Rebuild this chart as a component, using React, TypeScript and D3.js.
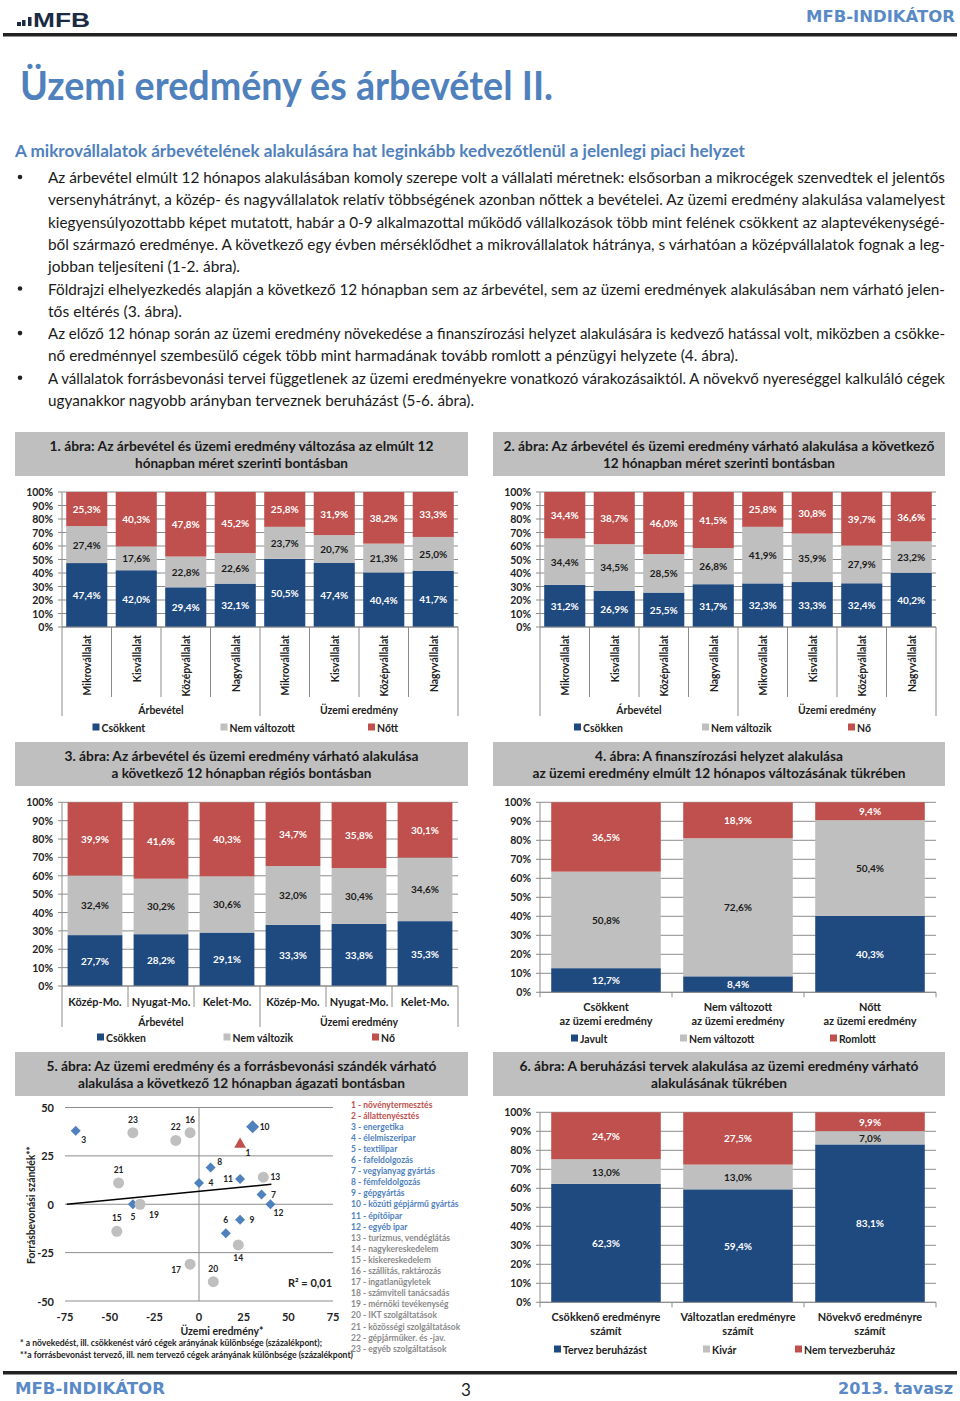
import React from "react";
import * as d3 from "d3";

const FONT = "Lato, 'Open Sans', sans-serif";
const BLUE = "#1f4a80";
const GRAY = "#bfbfbf";
const RED = "#c0504d";
const HEAD = "#4f81bd";
const GRID = "#8c8c8c";

// ---------- Chart 1 ----------
const c1Cats = ["Mikrovállalat", "Kisvállalat", "Középvállalat", "Nagyvállalat", "Mikrovállalat", "Kisvállalat", "Középvállalat", "Nagyvállalat"];
const c1Groups = ["Árbevétel", "Üzemi eredmény"];
const c1Names = ["Csökkent", "Nem változott", "Nőtt"];
const c1Down = [47.4, 42.0, 29.4, 32.1, 50.5, 47.4, 40.4, 41.7];
const c1Same = [27.4, 17.6, 22.8, 22.6, 23.7, 20.7, 21.3, 25.0];
const c1Up = [25.3, 40.3, 47.8, 45.2, 25.8, 31.9, 38.2, 33.3];

// ---------- Chart 2 ----------
const c2Cats = c1Cats;
const c2Groups = ["Árbevétel", "Üzemi eredmény"];
const c2Names = ["Csökken", "Nem változik", "Nő"];
const c2Down = [31.2, 26.9, 25.5, 31.7, 32.3, 33.3, 32.4, 40.2];
const c2Same = [34.4, 34.5, 28.5, 26.8, 41.9, 35.9, 27.9, 23.2];
const c2Up = [34.4, 38.7, 46.0, 41.5, 25.8, 30.8, 39.7, 36.6];

// ---------- Chart 3 ----------
const c3Cats = ["Közép-Mo.", "Nyugat-Mo.", "Kelet-Mo.", "Közép-Mo.", "Nyugat-Mo.", "Kelet-Mo."];
const c3Groups = ["Árbevétel", "Üzemi eredmény"];
const c3Names = ["Csökken", "Nem változik", "Nő"];
const c3Down = [27.7, 28.2, 29.1, 33.3, 33.8, 35.3];
const c3Same = [32.4, 30.2, 30.6, 32.0, 30.4, 34.6];
const c3Up = [39.9, 41.6, 40.3, 34.7, 35.8, 30.1];

// ---------- Chart 4 ----------
const c4Cats = ["Csökkent\naz üzemi eredmény", "Nem változott\naz üzemi eredmény", "Nőtt\naz üzemi eredmény"];
const c4Names = ["Javult", "Nem változott", "Romlott"];
const c4Better = [12.7, 8.4, 40.3];
const c4Same = [50.8, 72.6, 50.4];
const c4Worse = [36.5, 18.9, 9.4];

// ---------- Chart 5 (scatter) ----------
const spId = [3, 23, 22, 16, 10, 1, 8, 4, 11, 13, 21, 7, 12, 5, 19, 15, 9, 6, 14, 17, 20];
const spX = [-69, -37, -13, -5, 30, 23, 6.5, 0, 23, 36, -45, 35, 40, -37, -33, -46, 23, 15, 22, -5, 8];
const spY = [38, 37, 33, 37, 40, 31, 19, 11, 13, 14, 11, 5, 0, 0, 0, -14, -8, -15, -21, -31, -40];
const spLabelPos = ["br", "t", "t", "t", "r", "br", "tr", "r", "l", "r", "t", "r", "br", "b", "br2", "t", "r", "t", "b", "bl", "t"];
const trendX = [-74, 40.5];
const trendY = [0, 10.3];
const spXTicks = [-75, -50, -25, 0, 25, 50, 75];
const spYTicks = [50, 25, 0, -25, -50];
const sectors = [
  "1 - növénytermesztés", "2 - állattenyésztés", "3 - energetika", "4 - élelmiszeripar", "5 - textilipar",
  "6 - fafeldolgozás", "7 - vegyianyag  gyártás", "8 - fémfeldolgozás", "9 - gépgyártás",
  "10 - közúti gépjármű gyártás", "11 - építőipar", "12 - egyéb ipar", "13 - turizmus, vendéglátás",
  "14 - nagykereskedelem", "15 - kiskereskedelem", "16 - szállítás,  raktározás", "17 - ingatlanügyletek",
  "18 - számviteli tanácsadás", "19 - mérnöki tevékenység", "20 - IKT szolgáltatások",
  "21 - közösségi  szolgáltatások", "22 - gépjárműker. és -jav.", "23 - egyéb szolgáltatások",
];

// ---------- Chart 6 ----------
const c6Cats = ["Csökkenő eredményre\nszámít", "Változatlan eredményre\nszámít", "Növekvő eredményre\nszámít"];
const c6Names = ["Tervez beruházást", "Kivár", "Nem tervezberuház"];
const c6Plan = [62.3, 59.4, 83.1];
const c6Wait = [13.0, 13.0, 7.0];
const c6No = [24.7, 27.5, 9.9];

// ---------- Text ----------
const bodyLines = [
  "Az árbevétel elmúlt 12 hónapos alakulásában komoly szerepe volt a vállalati méretnek: elsősorban a mikrocégek szenvedtek el jelentős",
  "versenyhátrányt, a közép- és nagyvállalatok relatív többségének azonban nőttek a bevételei. Az üzemi eredmény alakulása valamelyest",
  "kiegyensúlyozottabb képet mutatott, habár a 0-9 alkalmazottal működő vállalkozások több mint felének csökkent az alaptevékenységé-",
  "ből származó eredménye. A következő egy évben mérséklődhet a mikrovállalatok hátránya, s várhatóan a középvállalatok fognak a leg-",
  "jobban teljesíteni (1-2. ábra).",
  "Földrajzi elhelyezkedés alapján a következő 12 hónapban sem az árbevétel, sem az üzemi eredmények alakulásában nem várható jelen-",
  "tős eltérés (3. ábra).",
  "Az előző 12 hónap során az üzemi eredmény növekedése a finanszírozási helyzet alakulására is kedvező hatással volt, miközben a csökke-",
  "nő eredménnyel szembesülő cégek több mint harmadának tovább romlott a pénzügyi helyzete (4. ábra).",
  "A vállalatok forrásbevonási tervei függetlenek az üzemi eredményekre vonatkozó várakozásaiktól. A növekvő nyereséggel kalkuláló cégek",
  "ugyanakkor nagyobb arányban terveznek beruházást (5-6. ábra).",
];
const bulletStarts = [0, 5, 7, 9];
const bodyWidths = [897, 897, 897, 897, 192, 897, 134, 897, 690, 897, 426];

const fmt = (v: number) => d3.format(".1f")(v).replace(".", ",") + "%";

function T(p: any) {
  const { x, y, children, size = 11, weight = "bold", fill = "#222", anchor = "start", rot = 0, sx = 1, tl, font = FONT } = p;
  const tf = `translate(${x},${y})${rot ? ` rotate(${rot})` : ""}${sx !== 1 ? ` scale(${sx},1)` : ""}`;
  return (
    <text
      transform={tf}
      fontSize={size}
      fontWeight={weight}
      fill={fill}
      textAnchor={anchor}
      dominantBaseline="central"
      fontFamily={font}
      textLength={tl}
      lengthAdjust={tl ? "spacingAndGlyphs" : undefined}
    >
      {children}
    </text>
  );
}

function TitleBox({ x, y, w, h, lines, widths }: any) {
  return (
    <g>
      <rect x={x} y={y} width={w} height={h} fill={GRAY} />
      {lines.map((l: string, i: number) => (
        <T key={i} x={x + w / 2} y={y + 14 + i * 17} size={13.5} anchor="middle" tl={widths[i]} fill="#1a1a1a">
          {l}
        </T>
      ))}
    </g>
  );
}

function Stacked(p: any) {
  const { L, R, Tp, B, cats, values, names, mode, groups, catY, sepInner, sepOuter, groupY, legendY, legendX, catSize = 11, tickSize = 10.5 } = p;
  const n = cats.length;
  const idx = d3.range(n).map(String);
  const x = d3.scaleBand().domain(idx).range([L, R]).paddingInner(0.17).paddingOuter(0.085);
  const y = d3.scaleLinear().domain([0, 1]).range([B, Tp]);
  const rows = idx.map((k, i) => ({ k, s0: values[0][i], s1: values[1][i], s2: values[2][i] }));
  const stacked = d3.stack<any>().keys(["s0", "s1", "s2"]).offset(d3.stackOffsetExpand)(rows);
  const colors = [BLUE, GRAY, RED];
  const labelCol = ["#fff", "#1a1a1a", "#fff"];
  const ticks = d3.range(0, 11).map((d) => d / 10);
  const step = x.step();
  const bounds = d3.range(n + 1).map((i) => L + i * step);
  return (
    <g>
      {ticks.map((t) => (
        <g key={t}>
          <line x1={L - 4} x2={R} y1={y(t)} y2={y(t)} stroke={GRID} strokeWidth={1} />
          <T x={L - 9} y={y(t)} size={tickSize} anchor="end">{Math.round(t * 100) + "%"}</T>
        </g>
      ))}
      {stacked.map((s, si) =>
        s.map((d: any, i: number) => {
          const y0 = y(d[0]);
          const y1 = y(d[1]);
          return (
            <g key={si + "-" + i}>
              <rect x={x(String(i))} y={y1} width={x.bandwidth()} height={y0 - y1} fill={colors[si]} />
              <T x={(x(String(i)) as number) + x.bandwidth() / 2} y={(y0 + y1) / 2} size={10} anchor="middle" fill={labelCol[si]}>
                {fmt(values[si][i])}
              </T>
            </g>
          );
        })
      )}
      <line x1={L} x2={L} y1={Tp} y2={B} stroke={GRID} />
      <line x1={L} x2={R} y1={B} y2={B} stroke={GRID} />
      {bounds.map((bx, i) => {
        let y2 = B + 5;
        if (groups) {
          const outer = i === 0 || i === n || i === n / 2;
          y2 = outer ? sepOuter : sepInner;
        }
        return <line key={"s" + i} x1={bx} x2={bx} y1={B} y2={y2} stroke={GRID} />;
      })}
      {cats.map((c: string, i: number) => {
        const cx = (x(String(i)) as number) + x.bandwidth() / 2;
        if (mode === "rot") return <T key={"c" + i} x={cx} y={catY} rot={-90} anchor="end" size={catSize} sx={0.95}>{c}</T>;
        if (mode === "horiz") return <T key={"c" + i} x={cx} y={catY} anchor="middle" size={catSize} sx={0.95}>{c}</T>;
        return (
          <g key={"c" + i}>
            {c.split("\n").map((l, j) => (
              <T key={j} x={cx} y={catY + j * 13.5} anchor="middle" size={catSize} sx={0.95}>{l}</T>
            ))}
          </g>
        );
      })}
      {groups &&
        groups.map((g: string, i: number) => (
          <T key={"g" + i} x={L + (R - L) * (i * 2 + 1) / 4} y={groupY} anchor="middle" size={11} sx={0.95}>{g}</T>
        ))}
      {names.map((nm: string, i: number) => (
        <g key={"l" + i}>
          <rect x={legendX[i]} y={legendY - 3.5} width={7} height={7} fill={colors[i]} />
          <T x={legendX[i] + 9} y={legendY} size={11} sx={0.95}>{nm}</T>
        </g>
      ))}
    </g>
  );
}

function Scatter() {
  const sx = d3.scaleLinear().domain([-75, 75]).range([65, 333]);
  const sy = d3.scaleLinear().domain([-50, 50]).range([1301, 1107.5]);
  const offs: any = { t: [0, -13], b: [0, 13], r: [12, 0], l: [-12, 0], br: [8, 9], br2: [14, 11], tr: [9, -5], bl: [-14, 6] };
  const line = d3.line<number>().x((_, i) => sx(trendX[i])).y((d) => sy(d));
  return (
    <g>
      {spYTicks.map((t) => (
        <g key={t}>
          <line x1={sx(-75)} x2={sx(75)} y1={sy(t)} y2={sy(t)} stroke={GRID} />
          <T x={54} y={sy(t)} anchor="end" size={11}>{String(t)}</T>
        </g>
      ))}
      <line x1={sx(0)} x2={sx(0)} y1={sy(50)} y2={sy(-50)} stroke={GRID} />
      {spXTicks.map((t) => (
        <T key={"x" + t} x={sx(t)} y={1316} anchor="middle" size={11}>{String(t)}</T>
      ))}
      <path d={line(trendY) as string} stroke="#000" strokeWidth={1.5} fill="none" />
      {spId.map((id, i) => {
        const px = sx(spX[i]);
        const py = sy(spY[i]);
        let mark;
        if (id <= 2) mark = <path d={d3.symbol(d3.symbolTriangle, 60)() as string} transform={`translate(${px},${py})`} fill={RED} />;
        else if (id <= 12) {
          const r = id === 10 ? 6.5 : 5;
          mark = <path d={`M0,${-r}L${r},0L0,${r}L${-r},0Z`} transform={`translate(${px},${py})`} fill={HEAD} />;
        } else mark = <circle cx={px} cy={py} r={5.5} fill={GRAY} />;
        const o = offs[spLabelPos[i]];
        return (
          <g key={id}>
            {mark}
            <T x={px + o[0]} y={py + o[1]} anchor="middle" size={8.5}>{String(id)}</T>
          </g>
        );
      })}
      <T x={310} y={1282} anchor="middle" size={11}>R² = 0,01</T>
      <T x={30} y={1205} rot={-90} anchor="middle" size={11} tl={118}>Forrásbevonási szándék**</T>
      <T x={222} y={1330} anchor="middle" size={11} tl={83}>Üzemi eredmény*</T>
      <T x={20} y={1343} size={8.5} tl={302}>* a növekedést, ill. csökkenést váró cégek arányának különbsége (százalékpont);</T>
      <T x={20} y={1355} size={8.5} tl={333}>**a forrásbevonást tervező, ill. nem tervező cégek arányának különbsége (százalékpont)</T>
      {sectors.map((s, i) => (
        <T key={s} x={351} y={1104.5 + i * 11.1} size={8.5} fill={i < 2 ? RED : i < 12 ? HEAD : "#8a8a8a"}>{s}</T>
      ))}
    </g>
  );
}

export default function App() {
  return (
    <svg width={960} height={1401} style={{ position: "absolute", left: 0, top: 0, background: "#fff" }}>
      <rect width={960} height={1401} fill="#fff" />
      {/* header */}
      <rect x={17} y={22} width={4} height={4} fill="#1b2b45" />
      <rect x={22} y={20} width={3.5} height={6} fill="#1b2b45" />
      <rect x={28} y={17} width={3.5} height={9} fill="#1b2b45" />
      <T x={33} y={19} size={20.5} fill="#1b2b45" tl={57} font="'Liberation Sans', Arial, sans-serif">MFB</T>
      <T x={955} y={17} size={15.5} anchor="end" fill="#5a8ac6" tl={149} font="'DejaVu Sans', sans-serif">MFB-INDIKÁTOR</T>
      <rect x={3} y={33} width={954} height={3.5} fill="#222" />
      <T x={20} y={85} size={40} fill={HEAD} tl={533}>Üzemi eredmény és árbevétel II.</T>
      <T x={15} y={150} size={17} fill={HEAD} tl={730}>A mikrovállalatok árbevételének alakulására hat leginkább kedvezőtlenül a jelenlegi piaci helyzet</T>
      {bodyLines.map((l, i) => {
        const yy = 177 + i * 22.3;
        return (
          <g key={i}>
            {bulletStarts.includes(i) && <circle cx={20} cy={yy} r={2.3} fill="#222" />}
            <T x={48} y={yy} size={15} weight="normal" fill="#1a1a1a" tl={bodyWidths[i]}>{l}</T>
          </g>
        );
      })}

      {/* chart 1 */}
      <TitleBox x={15} y={432} w={453} h={44} lines={["1. ábra: Az árbevétel és üzemi eredmény változása az elmúlt 12", "hónapban  méret szerinti  bontásban"]} widths={[384, 213]} />
      <Stacked L={62} R={458} Tp={492} B={627} cats={c1Cats} values={[c1Down, c1Same, c1Up]} names={c1Names} mode="rot" groups={c1Groups}
        catY={635} sepInner={697} sepOuter={716} groupY={709} legendY={727} legendX={[92.5, 220.5, 368]} />

      {/* chart 2 */}
      <TitleBox x={493} y={432} w={452} h={44} lines={["2. ábra: Az árbevétel és üzemi eredmény várható alakulása a következő", "12 hónapban  méret szerinti bontásban"]} widths={[431, 232]} />
      <Stacked L={540} R={936} Tp={492} B={627} cats={c2Cats} values={[c2Down, c2Same, c2Up]} names={c2Names} mode="rot" groups={c2Groups}
        catY={635} sepInner={697} sepOuter={716} groupY={709} legendY={727} legendX={[574, 702, 848]} />

      {/* chart 3 */}
      <TitleBox x={15} y={742} w={453} h={44} lines={["3. ábra: Az árbevétel és üzemi eredmény várható alakulása", "a következő 12 hónapban  régiós bontásban"]} widths={[354, 260]} />
      <Stacked L={62} R={458} Tp={802.3} B={986} cats={c3Cats} values={[c3Down, c3Same, c3Up]} names={c3Names} mode="horiz" groups={c3Groups}
        catY={1001} sepInner={1007} sepOuter={1027} groupY={1021} legendY={1037} legendX={[97, 223.5, 372]} catSize={11.5} />

      {/* chart 4 */}
      <TitleBox x={493} y={742} w={452} h={44} lines={["4. ábra: A finanszírozási  helyzet alakulása", "az üzemi eredmény elmúlt 12 hónapos  változásának  tükrében"]} widths={[248, 373]} />
      <Stacked L={540} R={936} Tp={802.3} B={992.3} cats={c4Cats} values={[c4Better, c4Same, c4Worse]} names={c4Names} mode="two"
        catY={1006.7} legendY={1038} legendX={[571, 680, 830]} catSize={11.5} />

      {/* chart 5 */}
      <TitleBox x={15} y={1052} w={453} h={44} lines={["5. ábra: Az üzemi eredmény és a forrásbevonási szándék várható", "alakulása a következő 12 hónapban ágazati bontásban"]} widths={[390, 327]} />
      <Scatter />

      {/* chart 6 */}
      <TitleBox x={493} y={1052} w={452} h={44} lines={["6. ábra: A beruházási  tervek alakulása  az üzemi eredmény várható", "alakulásának  tükrében"]} widths={[399, 136]} />
      <Stacked L={540} R={936} Tp={1112.3} B={1302.3} cats={c6Cats} values={[c6Plan, c6Wait, c6No]} names={c6Names} mode="two"
        catY={1316.7} legendY={1349} legendX={[554, 703, 795]} catSize={11.5} />

      {/* footer */}
      <rect x={3} y={1371} width={954} height={3.5} fill="#222" />
      <T x={15} y={1388} size={16} fill="#5a8ac6" tl={150} font="'DejaVu Sans', sans-serif">MFB-INDIKÁTOR</T>
      <T x={466} y={1389} size={17} weight="normal" anchor="middle" fill="#222">3</T>
      <T x={953} y={1388} size={16} anchor="end" fill="#5a8ac6" tl={115} font="'DejaVu Sans', sans-serif">2013. tavasz</T>
    </svg>
  );
}
